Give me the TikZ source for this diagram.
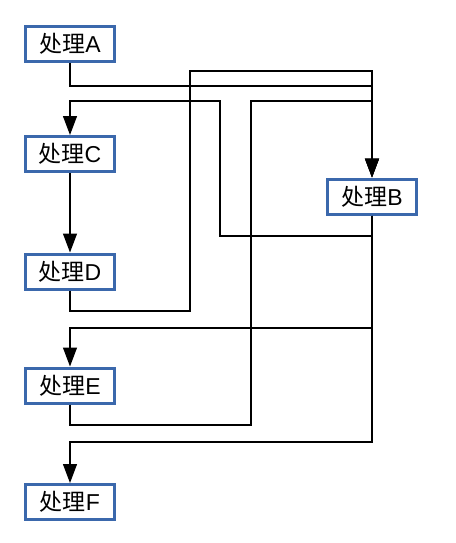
\documentclass[tikz,border=0pt]{standalone}
\usepackage{fontspec}
\setmainfont{Liberation Sans}
\newfontfamily\cjk{Noto Sans CJK SC}
\usetikzlibrary{arrows.meta}
\usetikzlibrary{positioning}

\begin{document}
\begin{tikzpicture}[
        x=1pt, y=-1pt,
        proc/.style={rectangle, draw={rgb,255:red,59;green,104;blue,172}, line width=3pt,
            fill=white, minimum width=89pt, minimum height=35pt, inner sep=0,
            font=\fontsize{23}{26}\selectfont},
        link/.style={line width=1.2pt, draw=black},
        >={Triangle[length=19pt, width=14pt]}
    ]
        \useasboundingbox (0,0) rectangle (455,543);

        % 定义处理框:名称/文字/x/y
        \def\procs{
            A/A/70/44,
            C/C/70/154,
            D/D/70/271.5,
            E/E/70/385.5,
            F/F/70/502,
            B/B/372/196.5
        }

        % 绘制处理框
        \foreach \name/\label/\x/\y in \procs {
            \node[proc] (\name) at (\x, \y) {{\cjk 处理}\label};
        }

        % A → B
        \draw[link, ->] (A.south) |- (190,86) -| (B.north);

        % D → B
        \draw[link, ->] (D.south) |- (190,311) -- (190,71) -| (B.north);

        % E → B
        \draw[link, ->] (E.south) |- (251,425) -- (251,101) -| (B.north);

        % B → C
        \draw[link, ->] (B.south) |- (220,236) -- (220,101) -| (C.north);

        % C → D
        \draw[link, ->] (C.south) -- (D.north);

        % B → E
        \draw[link, ->] (B.south) |- (251,328) -| (E.north);

        % B → F
        \draw[link, ->] (B.south) |- (251,442) -| (F.north);

    \end{tikzpicture}
\end{document}
